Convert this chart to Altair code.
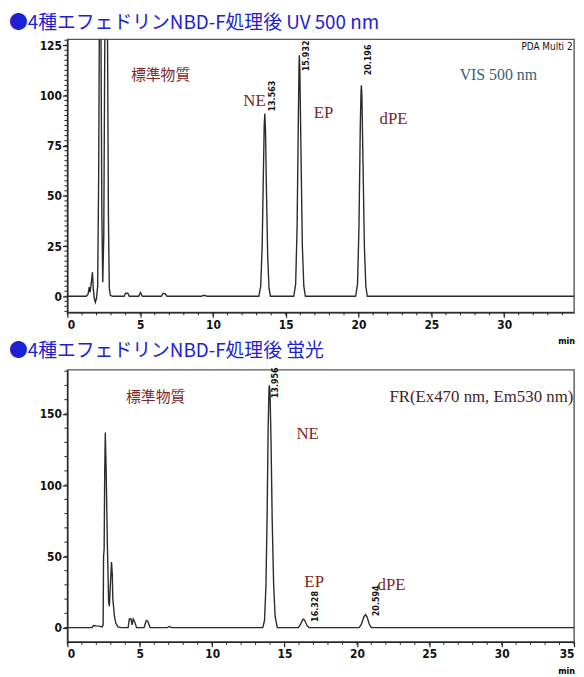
import altair as alt
import pandas as pd

# ---------------- data ----------------
# Panel 1: UV/VIS 500 nm trace (time in min, signal)
top_t = [0, 1.3, 1.42, 1.5, 1.56, 1.65, 1.72, 1.78, 1.85, 1.92, 2.0, 2.08, 2.15, 2.2, 2.3, 2.37, 2.43,
         2.5, 2.58, 2.75, 2.82, 2.88, 2.95, 3.1, 3.9, 4.0, 4.15, 4.25, 4.9, 5.02, 5.15, 6.45, 6.58,
         6.72, 6.85, 9.2, 9.4, 9.6,
         13.15, 13.28, 13.38, 13.46, 13.52, 13.563, 13.61, 13.68, 13.76, 13.85, 13.95,
         15.55, 15.68, 15.78, 15.86, 15.91, 15.932, 15.97, 16.05, 16.14, 16.24, 16.35,
         19.8, 19.93, 20.03, 20.12, 20.17, 20.196, 20.23, 20.31, 20.4, 20.5, 20.6, 34.8]
top_v = [0, 0, 1, 4.5, 2, 7, 12, 4, -1, -3, -1, 5, 60, 140, 140, 40, 7,
         30, 140, 140, 40, 4, 0.5, 0, 0, 1.5, 1.5, 0, 0, 1.8, 0, 0, 1.5,
         1.2, 0, 0, 0.5, 0,
         0, 5, 25, 60, 85, 91, 82, 50, 20, 4, 0,
         0, 6, 35, 85, 115, 120, 112, 70, 25, 5, 0,
         0, 6, 35, 85, 102, 105, 100, 65, 25, 5, 0, 0]

# Panel 2: fluorescence trace
bot_t = [0, 1.7, 1.8, 2.0, 2.2, 2.4, 2.47, 2.5, 2.54, 2.58, 2.62, 2.68, 2.76, 2.85, 2.9, 2.97, 3.05,
         3.1, 3.14, 3.18, 3.25, 3.35, 3.5, 3.7, 4.2, 4.28, 4.4, 4.47, 4.55, 4.65, 4.78, 5.3, 5.45,
         5.55, 5.72, 6.9, 7.05, 7.2,
         13.5, 13.62, 13.72, 13.8, 13.87, 13.93, 13.956, 14.0, 14.07, 14.15, 14.25, 14.35, 14.5,
         15.95, 16.1, 16.25, 16.328, 16.4, 16.55, 16.7,
         20.15, 20.3, 20.48, 20.594, 20.7, 20.85, 21.0, 35]
bot_v = [0, 0, 1.5, 1.2, 1, 0.5, 2, 50, 55, 110, 137, 110, 60, 18, 15, 30, 46,
         38, 20, 16, 8, 3, 0.5, 0, 0, 6, 6, 2, 6, 4, 0, 0, 5,
         4.5, 0, 0, 0.8, 0,
         0, 5, 30, 80, 140, 168, 170, 165, 130, 75, 30, 8, 0,
         0, 2, 5.5, 6, 5, 1.5, 0,
         0, 2, 7.5, 9, 7.5, 2.5, 0, 0]

# Axis tick values
top_x_major = [0, 5, 10, 15, 20, 25, 30]
top_x_minor = list(range(0, 35))
top_y_major = [0, 25, 50, 75, 100, 125]
top_y_minor = [-7.5, -5, -2.5] + [i * 2.5 for i in range(0, 52)]
bot_x_major = [0, 5, 10, 15, 20, 25, 30, 35]
bot_x_minor = list(range(0, 36))
bot_y_major = [0, 50, 100, 150]
bot_y_minor = list(range(0, 181, 10))

# Retention-time labels
top_rt_text = ["13.563", "15.932", "20.196"]
top_rt_t = [14.05, 16.4, 20.65]
top_rt_v = [92, 112, 110]
bot_rt_text = ["13.956", "16.328", "20.594"]
bot_rt_t = [14.35, 17.1, 21.3]
bot_rt_v = [161, 4, 8]

# Compound names
top_name_text = ["NE", "EP", "dPE"]
top_name_t = [12.85, 17.6, 22.4]
top_name_v = [97, 91, 88]
bot_name_text = ["NE", "EP", "dPE"]
bot_name_t = [16.6, 17.05, 22.4]
bot_name_v = [136, 32, 30]

titles = ["●4種エフェドリンNBD-F処理後  UV 500 nm", "●4種エフェドリンNBD-F処理後  蛍光"]

W = 512
H1 = 276
H2 = 275
RED = "#7d2626"
LINE = "#2b2b2b"
AXFONT = "Liberation Sans Narrow, DejaVu Sans Condensed, Liberation Sans, sans-serif"


def panel(ts, vs, xdom, ydom, xmaj, xmin, ymaj, ymin, title, height, rt, names, extra):
    xaxis = alt.Axis(
        values=xmaj, tickSize=5, labelOverlap=False, grid=False, labelPadding=2,
        title="min", titleX=W - 8, titleY=25, titleFontSize=9, titleFontWeight="bold",
        titleFont=AXFONT,
    )
    yaxis = alt.Axis(values=ymaj, tickSize=5, labelOverlap=False, grid=False, title=None,
                     labelPadding=1)
    X = alt.X("t:Q", scale=alt.Scale(domain=xdom, nice=False), axis=xaxis)
    Y = alt.Y("v:Q", scale=alt.Scale(domain=ydom, nice=False), axis=yaxis)

    def text_layer(ts_, vs_, texts, **kw):
        df_ = pd.DataFrame({"t": ts_, "v": vs_, "label": texts})
        return alt.Chart(df_).mark_text(**kw).encode(x=X, y=Y, text="label:N")

    df = pd.DataFrame({"t": ts, "v": vs})
    line = alt.Chart(df).mark_line(color=LINE, strokeWidth=1.4, clip=True).encode(
        x=X, y=Y, order="t:Q")
    xminor = alt.Chart(pd.DataFrame({"t": xmin})).mark_rule(color="#222", strokeWidth=1).encode(
        x=X, y=alt.value(height), y2=alt.value(height + 3))
    yminor = alt.Chart(pd.DataFrame({"v": ymin})).mark_rule(color="#222", strokeWidth=1).encode(
        y=Y, x=alt.value(0), x2=alt.value(-3))
    rt_layer = text_layer(rt[0], rt[1], rt[2], angle=270, align="left", baseline="middle",
                          font=AXFONT, fontWeight="bold", fontSize=9, color="#111")
    name_layer = text_layer(names[0], names[1], names[2], align="center", baseline="middle",
                            font="Liberation Serif", fontSize=17, color=RED)
    layers = [line, xminor, yminor, rt_layer, name_layer] + [
        text_layer(e[0], e[1], e[2], **e[3]) for e in extra]
    return alt.layer(*layers).properties(
        width=W,
        height=height,
        title=alt.TitleParams(text=title, anchor="start", frame="group", dx=-59, offset=6,
                              font="Noto Sans CJK JP", fontSize=19, fontWeight="normal",
                              color="#1c22d4"),
    )


top_extra = [
    ([6.4], [110], ["標準物質"], dict(align="center", baseline="middle", font="Noto Sans CJK JP",
                                    fontSize=15, color=RED)),
    ([29.6], [110], ["VIS 500 nm"], dict(align="center", baseline="middle", font="Liberation Serif",
                                        fontSize=16, color="#2f6478")),
    ([34.7], [124], ["PDA Multi 2"], dict(align="right", baseline="middle", font=AXFONT,
                                         fontSize=10, color="#111")),
]
bot_extra = [
    ([6.1], [162], ["標準物質"], dict(align="center", baseline="middle", font="Noto Sans CJK JP",
                                    fontSize=15, color=RED)),
    ([28.6], [162], ["FR(Ex470 nm, Em530 nm)"], dict(align="center", baseline="middle",
                                                   font="Liberation Serif", fontSize=17,
                                                   color="#4a1d1d")),
]

p1 = panel(top_t, top_v, [0, 34.8], [-8, 128], top_x_major, top_x_minor, top_y_major, top_y_minor,
           titles[0], H1, (top_rt_t, top_rt_v, top_rt_text),
           (top_name_t, top_name_v, top_name_text), top_extra)
p2 = panel(bot_t, bot_v, [0, 35], [-10, 181], bot_x_major, bot_x_minor, bot_y_major, bot_y_minor,
           titles[1], H2, (bot_rt_t, bot_rt_v, bot_rt_text),
           (bot_name_t, bot_name_v, bot_name_text), bot_extra)

chart = alt.vconcat(p1, p2, spacing=58, bounds="flush").properties(
    padding={"left": 0, "top": 2, "right": 0, "bottom": 0}
).configure_view(
    stroke="#555", strokeWidth=1.4
).configure_axis(
    domainColor="#222", tickColor="#222", labelColor="#111", labelFont=AXFONT,
    labelFontWeight="bold", labelFontSize=12, domainWidth=1.3, tickWidth=1.2
)

chart.save("out.html", embed_options={"renderer": "svg", "actions": False})
